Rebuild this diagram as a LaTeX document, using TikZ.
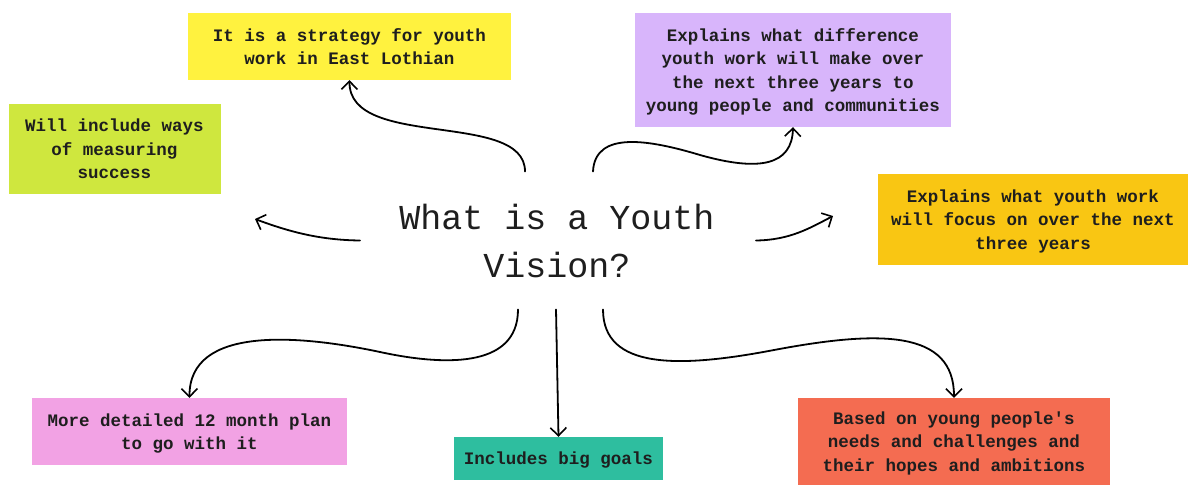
\documentclass[tikz,border=0pt]{standalone}
\usepackage{fontspec}
\setmonofont{Liberation Mono}
\usetikzlibrary{arrows.meta}
\definecolor{inkc}{HTML}{1E1E1E}
\definecolor{cyellow}{HTML}{FFF23F}
\definecolor{clime}{HTML}{CFE73E}
\definecolor{cpurple}{HTML}{D8B5FB}
\definecolor{cgold}{HTML}{F9C613}
\definecolor{cpink}{HTML}{F2A2E4}
\definecolor{cteal}{HTML}{2EBE9F}
\definecolor{cred}{HTML}{F46C51}
\begin{document}
\begin{tikzpicture}[x=1pt,y=-1pt,
  card/.style={rectangle, inner sep=0pt, align=center, text=inkc, text depth=0pt,
    font=\ttfamily\bfseries\fontsize{17.5}{23.5}\selectfont},
  link/.style={draw=black, line width=1.8pt, line cap=round,
    -{Straight Barb[length=8pt,width=16pt,line width=1.6pt]}}]
\useasboundingbox[fill=white] (0,0) rectangle (1188,485);

% central question
\node[inner sep=0pt, align=center, text=inkc,
  font=\ttfamily\fontsize{35}{48}\selectfont] (title) at (557,240.5)
  {What is a Youth\\Vision?};

% surrounding cards
\node[card, fill=cyellow, minimum width=323pt, minimum height=67pt] (strategy) at (349.5,46.5)
  {It is a strategy for youth\\work in East Lothian};
\node[card, fill=clime, minimum width=212pt, minimum height=90pt] (measure) at (114.5,149)
  {Will include ways\\of measuring\\success};
\node[card, fill=cpurple, minimum width=316pt, minimum height=114pt] (difference) at (793,70)
  {Explains what difference\\youth work will make over\\the next three years to\\young people and communities};
\node[card, fill=cgold, minimum width=310pt, minimum height=91pt] (focus) at (1033,219.5)
  {Explains what youth work\\will focus on over the next\\three years};
\node[card, fill=cpink, minimum width=315pt, minimum height=67pt] (plan) at (189.5,431.5)
  {More detailed 12 month plan\\to go with it};
\node[card, fill=cteal, minimum width=209pt, minimum height=43pt] (goals) at (558.5,458.5)
  {Includes big goals};
\node[card, fill=cred, minimum width=312pt, minimum height=87pt] (needs) at (954,441.5)
  {Based on young people's\\needs and challenges and\\their hopes and ambitions};

% connector start points around the question
\coordinate (s1) at ([shift={(-32,-69)}]title.center);
\coordinate (s2) at ([shift={(36,-69)}]title.center);
\coordinate (s3) at ([shift={(-197,0)}]title.center);
\coordinate (s4) at ([shift={(199,0)}]title.center);
\coordinate (s5) at ([shift={(-39,69)}]title.center);
\coordinate (s6) at ([shift={(-1,69)}]title.center);
\coordinate (s7) at ([shift={(46,69)}]title.center);
\coordinate (e3) at (255,219);
\coordinate (e4) at (833,216);

% connectors
\draw[link] (s1) .. controls (525,110) and (349,150) .. (strategy.south);
\draw[link] (s2) .. controls (595,130) and (650,140) .. (700,155)
  .. controls (760,172) and (792,165) .. (difference.south);
\draw[link] (s3) .. controls (320,240) and (290,232) .. (e3);
\draw[link] (s4) .. controls (790,240) and (810,228) .. (e4);
\draw[link] (s5) .. controls (518,370) and (440,365) .. (380,352)
  .. controls (300,335) and (189,325) .. (plan.north);
\draw[link] (s6) -- (goals.north);
\draw[link] (s7) .. controls (603,370) and (680,368) .. (774,350)
  .. controls (880,330) and (954,330) .. (needs.north);
\end{tikzpicture}
\end{document}
